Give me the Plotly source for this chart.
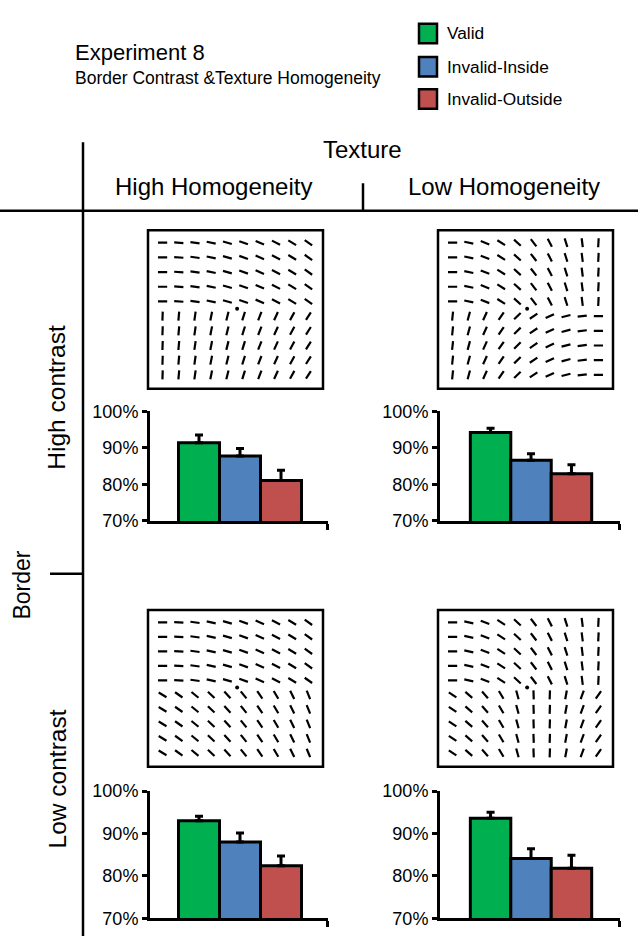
import numpy as np
import plotly.graph_objects as go

W, H = 638, 946
FONT = "Liberation Sans, Arial, Helvetica, sans-serif"

# ---------------- data ----------------
CONDITIONS = ["Valid", "Invalid-Inside", "Invalid-Outside"]
COLORS = ["#00B050", "#4F81BD", "#C0504D"]

ACC_HC_HIGH = [91.4, 87.8, 81.1]   # high contrast, high homogeneity
ERR_HC_HIGH = [2.1, 2.0, 2.8]
ACC_HC_LOW = [94.2, 86.6, 82.9]    # high contrast, low homogeneity
ERR_HC_LOW = [1.2, 1.8, 2.5]
ACC_LC_HIGH = [93.0, 88.0, 82.4]   # low contrast, high homogeneity
ERR_LC_HIGH = [1.1, 2.1, 2.3]
ACC_LC_LOW = [93.6, 84.1, 81.8]    # low contrast, low homogeneity
ERR_LC_LOW = [1.4, 2.3, 3.1]

Y_TICKS = [70, 80, 90, 100]
Y_TICK_LABELS = ["70%", "80%", "90%", "100%"]

# texture element orientations per column (deg, 0 = horizontal, + = counter-clockwise)
TEX_TOP_HIGH_HOMOG = [0, -4, -8, -12, -16, -20, -24, -28, -32, -36]
TEX_TOP_LOW_HOMOG = [0, -12, -22, -33, -43, -53, -63, -73, -83, -93]
TEX_BOT_HC_HIGH_HOMOG = [88, 85, 82, 79, 76, 73, 69, 66, 62, 58]
TEX_BOT_HC_LOW_HOMOG = [84, 75, 66, 56, 45, 35, 25, 15, 7, 0]
TEX_BOT_LC_HIGH_HOMOG = [-32, -36, -40, -44, -48, -52, -56, -60, -64, -68]
TEX_BOT_LC_LOW_HOMOG = [-35, -42, -50, -60, -75, -88, 88, 80, 70, 55]
TARGET = (4.6, 4.5)

ROW_LABELS = ["High contrast", "Low contrast"]
COL_LABELS = ["High Homogeneity", "Low Homogeneity"]


def px(x):
    return x / W


def py(y):
    return 1 - y / H


fig = go.Figure()
layout = dict(
    width=W, height=H, margin=dict(l=0, r=0, t=0, b=0),
    paper_bgcolor="white", plot_bgcolor="white",
    showlegend=False, bargap=0,
    font=dict(family=FONT, color="black"),
)

bar_panels = [
    (ACC_HC_HIGH, ERR_HC_HIGH, (150, 328), (410, 522), (-1.195, 3.146)),
    (ACC_HC_LOW, ERR_HC_LOW, (440, 620), (410, 522), (-1.25, 3.2)),
    (ACC_LC_HIGH, ERR_LC_HIGH, (150, 328), (798, 928), (-1.195, 3.146)),
    (ACC_LC_LOW, ERR_LC_LOW, (440, 620), (798, 928), (-1.25, 3.2)),
]

for i, (acc, err, xr, yr, rng) in enumerate(bar_panels):
    n = i + 1
    xa = "x" if n == 1 else f"x{n}"
    ya = "y" if n == 1 else f"y{n}"
    fig.add_trace(go.Bar(
        x=list(range(len(CONDITIONS))), y=acc, name="acc",
        marker=dict(color=COLORS, line=dict(color="black", width=3)),
        error_y=dict(type="data", array=err, arrayminus=[0] * len(err), symmetric=False,
                     thickness=3, width=4, color="black"),
        xaxis=xa, yaxis=ya, hoverinfo="skip",
    ))
    key = "" if n == 1 else str(n)
    layout["xaxis" + key] = dict(
        domain=[px(xr[0]), px(xr[1])], range=list(rng), anchor=ya,
        showline=True, linewidth=3, linecolor="black", showgrid=False, zeroline=False,
        ticks="outside", tickvals=[rng[1] - 0.02], ticktext=[""], ticklen=6, tickwidth=3,
        tickcolor="black", fixedrange=True,
    )
    layout["yaxis" + key] = dict(
        domain=[py(yr[1]), py(yr[0])], range=[70, 100], anchor=xa,
        showline=True, linewidth=3, linecolor="black", showgrid=False, zeroline=False,
        ticks="outside", tickvals=Y_TICKS, ticktext=Y_TICK_LABELS, ticklen=5, tickwidth=3,
        tickcolor="black", tickfont=dict(size=18, family=FONT, color="black"),
        fixedrange=True,
    )

# ---------------- textures ----------------
tex_panels = [
    (TEX_TOP_HIGH_HOMOG, TEX_BOT_HC_HIGH_HOMOG, (148, 323), (225, 387)),
    (TEX_TOP_LOW_HOMOG, TEX_BOT_HC_LOW_HOMOG, (438, 613), (225, 387)),
    (TEX_TOP_HIGH_HOMOG, TEX_BOT_LC_HIGH_HOMOG, (148, 323), (613, 773)),
    (TEX_TOP_LOW_HOMOG, TEX_BOT_LC_LOW_HOMOG, (438, 613), (613, 773)),
]
XR_T = (-0.9, 9.9)
YR_T = (-0.95, 9.85)
HALF = 4.6  # half segment length in px

shapes = []
for j, (top, bot, xr, yr) in enumerate(tex_panels):
    n = 5 + j
    xa, ya = f"x{n}", f"y{n}"
    ux = (XR_T[1] - XR_T[0]) / (xr[1] - xr[0])
    uy = (YR_T[1] - YR_T[0]) / (yr[1] - yr[0])
    xs, ys = [], []
    for r in range(10):
        angs = top if r < 5 else bot
        yc = 9 - r
        for c in range(10):
            a = np.deg2rad(angs[c])
            dx = HALF * np.cos(a) * ux
            dy = HALF * np.sin(a) * uy
            xs += [c - dx, c + dx, None]
            ys += [yc - dy, yc + dy, None]
    fig.add_trace(go.Scatter(x=xs, y=ys, mode="lines", line=dict(color="black", width=2.2),
                             xaxis=xa, yaxis=ya, hoverinfo="skip"))
    fig.add_trace(go.Scatter(x=[TARGET[0]], y=[TARGET[1]], mode="markers",
                             marker=dict(color="black", size=4), xaxis=xa, yaxis=ya,
                             hoverinfo="skip"))
    layout[f"xaxis{n}"] = dict(domain=[px(xr[0]), px(xr[1])], range=list(XR_T),
                               visible=False, anchor=ya, fixedrange=True)
    layout[f"yaxis{n}"] = dict(domain=[py(yr[1]), py(yr[0])], range=list(YR_T),
                               visible=False, anchor=xa, fixedrange=True)
    shapes.append(dict(type="rect", xref=f"{xa} domain", yref=f"{ya} domain",
                       x0=0, x1=1, y0=0, y1=1, line=dict(color="black", width=2.5)))


# ---------------- table lines ----------------
def pline(x0, y0, x1, y1, w=2.5):
    return dict(type="line", xref="paper", yref="paper", x0=px(x0), y0=py(y0),
                x1=px(x1), y1=py(y1), line=dict(color="black", width=w))


shapes += [
    pline(83, 135, 83, 946),
    pline(0, 205, 638, 205),
    pline(363, 177, 363, 205),
    pline(50, 576, 83, 576),
]

# ---------------- legend ----------------
leg_y = [24, 58, 91]
for name, col, yc in zip(CONDITIONS, COLORS, leg_y):
    shapes.append(dict(type="rect", xref="paper", yref="paper",
                       x0=px(419), x1=px(437), y0=py(yc + 10), y1=py(yc - 10),
                       fillcolor=col, line=dict(color="black", width=2.5)))

annotations = []
for name, yc in zip(CONDITIONS, leg_y):
    annotations.append(dict(text=name, x=px(445), y=py(yc), xref="paper", yref="paper",
                            xanchor="left", yanchor="middle", showarrow=False,
                            font=dict(size=17.3, family=FONT, color="black")))


def ann(text, x, y, size, xanchor="center", angle=0):
    annotations.append(dict(text=text, x=px(x), y=py(y), xref="paper", yref="paper",
                            xanchor=xanchor, yanchor="middle", showarrow=False,
                            textangle=angle, font=dict(size=size, family=FONT, color="black")))


ann("Experiment 8", 73, 43, 22, "left")
ann("Border Contrast &amp;Texture Homogeneity", 73, 69, 17.5, "left")
ann("Texture", 362, 143, 24)
ann(COL_LABELS[0], 213, 180, 24)
ann(COL_LABELS[1], 504, 180, 24)
ann("Border", 22, 588, 23, angle=-90)
ann(ROW_LABELS[0], 57, 395, 24.5, angle=-90)
ann(ROW_LABELS[1], 57, 785, 24.5, angle=-90)

layout["shapes"] = shapes
layout["annotations"] = annotations
fig.update_layout(**layout)
fig.write_html(
    "out.html",
    config={"displayModeBar": False, "staticPlot": True},
    post_script="document.documentElement.style.margin='0';document.body.style.margin='0';"
                "document.body.style.padding='0';document.body.style.overflow='hidden';"
                "document.documentElement.style.overflow='hidden';",
)
